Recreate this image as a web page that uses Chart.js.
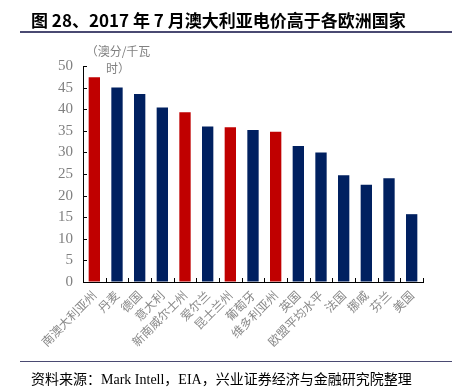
<!DOCTYPE html>
<html><head><meta charset="utf-8">
<script src="https://cdn.jsdelivr.net/npm/chart.js@4"></script>
<style>
html,body{margin:0;padding:0;background:#fff;}
#wrap{position:relative;width:452px;height:392px;overflow:hidden;}
#c{position:absolute;left:0;top:0;}
.t{position:absolute;white-space:nowrap;}
#title{left:31px;top:7px;font:bold 17px "Noto Sans CJK SC","DejaVu Sans",sans-serif;color:#000;}
#tline{left:20px;top:31px;width:432px;height:2px;background:#4a4a72;}
#fline{left:20px;top:361px;width:432px;height:1px;background:#4a4a72;}
#src{left:31px;top:368px;font:14px "Liberation Serif","Noto Sans CJK SC",serif;color:#000;}
#unit{left:80px;top:42px;width:76px;text-align:center;white-space:normal;line-height:18px;font:12px "Noto Sans CJK SC",sans-serif;color:#808080;}
</style></head>
<body>
<div id="wrap">
<canvas id="c" width="452" height="392"></canvas>
<div class="t" id="title">图 28、2017 年 7 月澳大利亚电价高于各欧洲国家</div>
<div class="t" id="tline"></div>
<div class="t" id="unit">（澳分/千瓦时）</div>
<div class="t" id="fline"></div>
<div class="t" id="src">资料来源：Mark Intell，EIA，兴业证券经济与金融研究院整理</div>
</div>
<script>
const categories = ["南澳大利亚州","丹麦","德国","意大利","新南威尔士州","爱尔兰","昆士兰州","葡萄牙","维多利亚州","英国","欧盟平均水平","法国","挪威","芬兰","美国"];
const prices = [47.4, 45.0, 43.5, 40.4, 39.3, 36.0, 35.8, 35.2, 34.8, 31.5, 30.0, 24.7, 22.5, 24.0, 15.7];
const isAustralia = [true,false,false,false,true,false,true,false,true,false,false,false,false,false,false];
const yTicks = [0,5,10,15,20,25,30,35,40,45,50];

const RED = "#C00000", NAVY = "#002060";

const inwardTicks = {
  id: "inwardTicks",
  afterDraw(chart) {
    const ctx = chart.ctx, x = chart.scales.x, y = chart.scales.y;
    ctx.save();
    ctx.strokeStyle = "#000";
    ctx.lineWidth = 1;
    ctx.beginPath();
    yTicks.forEach(v => {
      const py = Math.round(y.getPixelForValue(v)) + 0.5;
      ctx.moveTo(x.left, py); ctx.lineTo(x.left + 4, py);
    });
    for (let i = 0; i <= categories.length; i++) {
      const px = Math.round(x.getPixelForValue(i - 0.5)) + 0.5;
      ctx.moveTo(px, y.bottom); ctx.lineTo(px, y.bottom - 4);
    }
    ctx.stroke();
    ctx.restore();
  }
};

new Chart(document.getElementById("c"), {
  type: "bar",
  data: {
    labels: categories,
    datasets: [{
      data: prices,
      backgroundColor: isAustralia.map(a => a ? RED : NAVY),
      borderWidth: 0,
      barPercentage: 0.5,
      categoryPercentage: 1.0
    }]
  },
  options: {
    responsive: false,
    animation: false,
    devicePixelRatio: 1,
    layout: { padding: { top: 66, right: 29, bottom: 30, left: 0 } },
    plugins: { legend: { display: false }, tooltip: { enabled: false } },
    scales: {
      x: {
        offset: true,
        afterFit(s) { s.height = 80; },
        grid: { display: true, drawOnChartArea: false, drawTicks: false, color: "#000" },
        border: { display: true, color: "#000", width: 1 },
        ticks: {
          autoSkip: false, maxRotation: 45, minRotation: 45, padding: 6,
          color: "#888", font: { family: "'Noto Sans CJK SC', sans-serif", size: 12 }
        }
      },
      y: {
        min: 0, max: 50,
        afterFit(s) { s.width = 83; },
        afterBuildTicks(s) { s.ticks = yTicks.map(v => ({ value: v })); },
        grid: { display: true, drawOnChartArea: false, drawTicks: false, color: "#000" },
        border: { display: true, color: "#000", width: 1 },
        ticks: {
          padding: 10,
          color: "#808080", font: { family: "'Liberation Serif', serif", size: 15 }
        }
      }
    }
  },
  plugins: [inwardTicks]
});
</script>
</body></html>
